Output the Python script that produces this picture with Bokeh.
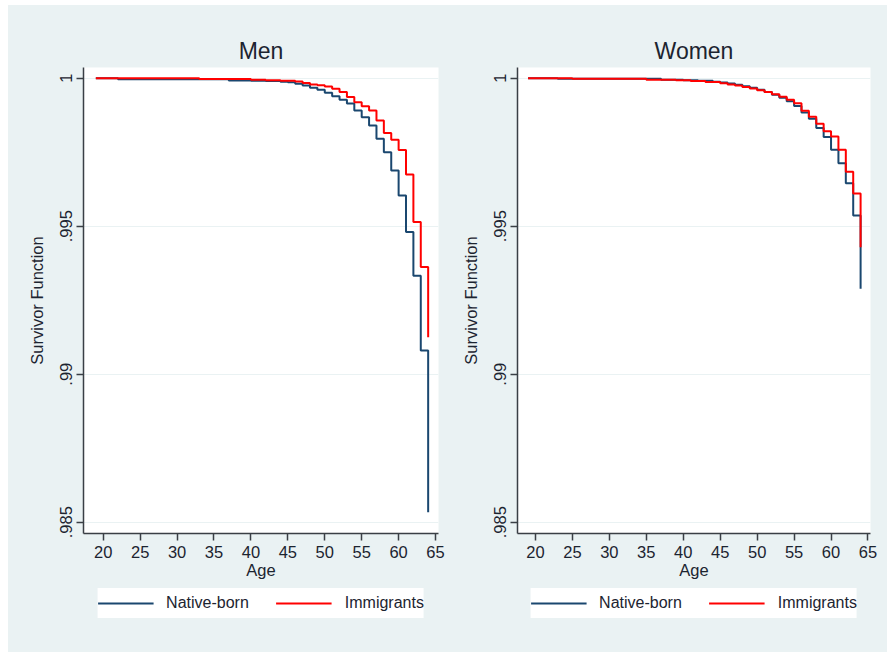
from bokeh.plotting import figure
from bokeh.models import FixedTicker, Legend, LegendItem, Range1d
from bokeh.layouts import row, column
from bokeh.embed import file_html
from bokeh.resources import INLINE

# ---------------- data ----------------
panel_titles = ["Men", "Women"]
series_labels = ["Native-born", "Immigrants"]

men_native_age = [19, 22, 37, 40, 42, 44, 45, 46, 47, 48, 49, 50, 51, 52, 53, 54,
                  55, 56, 57, 58, 59, 60, 61, 62, 63, 64]
men_native_surv = [1.0, 0.99996, 0.99992, 0.99991, 0.99990, 0.99988, 0.99986, 0.99981,
                   0.99975, 0.99968, 0.99961, 0.99951, 0.99939, 0.99927, 0.99914, 0.99891,
                   0.99868, 0.99840, 0.99795, 0.99750, 0.99688, 0.99604, 0.99480, 0.99333,
                   0.99080, 0.98534]

men_imm_age = [19, 33, 40, 42, 44, 46, 47, 48, 49, 50, 51, 52, 53, 54, 55, 56, 57,
               58, 59, 60, 61, 62, 63, 64]
men_imm_surv = [1.0, 0.99997, 0.99995, 0.99993, 0.99991, 0.99989, 0.99984, 0.99979,
                0.99976, 0.99972, 0.99964, 0.99953, 0.99936, 0.99919, 0.99905, 0.99891,
                0.99857, 0.99815, 0.99792, 0.99757, 0.99675, 0.99514, 0.99362, 0.99125]

women_native_age = [19, 23, 37, 40, 42, 44, 45, 46, 47, 48, 49, 50, 51, 52, 53, 54,
                    55, 56, 57, 58, 59, 60, 61, 62, 63, 64]
women_native_surv = [1.0, 0.99998, 0.99995, 0.99993, 0.99991, 0.99988, 0.99985, 0.99982,
                     0.99978, 0.99973, 0.99968, 0.99961, 0.99953, 0.99944, 0.99934, 0.99922,
                     0.99906, 0.99884, 0.99863, 0.99832, 0.99801, 0.99758, 0.99713, 0.99645,
                     0.99536, 0.99289]

women_imm_age = [19, 25, 35, 39, 41, 43, 45, 46, 47, 48, 49, 50, 51, 52, 53, 54,
                 55, 56, 57, 58, 59, 60, 61, 62, 63, 64]
women_imm_surv = [1.0, 0.99998, 0.99995, 0.99993, 0.99990, 0.99987, 0.99983, 0.99979,
                  0.99975, 0.99970, 0.99965, 0.99959, 0.99953, 0.99946, 0.99937, 0.99927,
                  0.99915, 0.99890, 0.99870, 0.99846, 0.99821, 0.99803, 0.99758, 0.99684,
                  0.99610, 0.99429]

x_ticks = [20, 25, 30, 35, 40, 45, 50, 55, 60, 65]
y_ticks = [0.985, 0.99, 0.995, 1.0]
y_tick_labels = [".985", ".99", ".995", "1"]

# ---------------- styling ----------------
BG = "#EAF2F3"
NAVY = "#1A476F"
RED = "#FF0000"
TXT = "#1c2430"
AXC = "#3a3f45"
FONT = "Liberation Sans"
series_colors = [NAVY, RED]
NAN = float("nan")


def make_panel(title, nat_age, nat_surv, imm_age, imm_surv, xr, frame_w, mb_left, mb_right):
    p = figure(frame_width=frame_w, frame_height=466,
               x_range=Range1d(*xr), y_range=Range1d(0.98462, 1.00036),
               output_backend="svg", toolbar_location=None,
               min_border_left=mb_left, min_border_right=mb_right,
               min_border_top=62, min_border_bottom=55,
               background_fill_color="white", border_fill_color=BG,
               outline_line_color=None)

    p.title.text = title
    p.title.align = "center"
    p.title.text_font = FONT
    p.title.text_font_size = "23px"
    p.title.text_font_style = "normal"
    p.title.text_color = TXT
    p.title.standoff = 7

    p.xaxis.ticker = FixedTicker(ticks=x_ticks)
    p.yaxis.ticker = FixedTicker(ticks=y_ticks)
    p.yaxis.major_label_overrides = {t: l for t, l in zip(y_ticks, y_tick_labels)}
    p.yaxis.major_label_orientation = "vertical"
    p.xaxis.axis_label = "Age"
    p.yaxis.axis_label = "Survivor Function"

    for ax in (p.xaxis[0], p.yaxis[0]):
        ax.axis_line_color = AXC
        ax.axis_line_width = 1.5
        ax.major_tick_line_color = AXC
        ax.major_tick_line_width = 1.5
        ax.major_tick_out = 7
        ax.major_tick_in = 0
        ax.minor_tick_out = 0
        ax.minor_tick_in = 0
        ax.major_label_text_font = FONT
        ax.major_label_text_font_size = "16.5px"
        ax.major_label_text_color = TXT
        ax.axis_label_text_font = FONT
        ax.axis_label_text_font_size = "16.5px"
        ax.axis_label_text_font_style = "normal"
        ax.axis_label_text_color = TXT
    p.xaxis.major_label_standoff = 5
    p.xaxis.axis_label_standoff = 0
    p.yaxis.major_label_standoff = 4
    p.yaxis.axis_label_standoff = 12

    p.xgrid.visible = False
    p.ygrid.grid_line_color = BG
    p.ygrid.grid_line_width = 1.2

    p.step(nat_age, nat_surv, mode="after", line_color=series_colors[0], line_width=2)
    p.step(imm_age, imm_surv, mode="after", line_color=series_colors[1], line_width=2)

    # legend lives in a strip below the panel, aligned with the panel's frame
    lf = figure(frame_width=frame_w, frame_height=64,
                min_border_left=mb_left, min_border_right=mb_right,
                min_border_top=0, min_border_bottom=0,
                x_axis_type=None, y_axis_type=None,
                output_backend="svg", toolbar_location=None,
                background_fill_color=BG, border_fill_color=BG,
                outline_line_color=None)
    lf.xgrid.visible = False
    lf.ygrid.visible = False
    items = []
    for lab, col in zip(series_labels, series_colors):
        r = lf.line(x=[NAN], y=[NAN], line_color=col, line_width=2)
        items.append(LegendItem(label=lab, renderers=[r]))
    legend = Legend(items=items, orientation="horizontal", location="top_center",
                    label_text_font=FONT, label_text_font_size="16px",
                    label_text_color=TXT,
                    glyph_width=56, glyph_height=30, label_height=30,
                    label_standoff=13, spacing=27, padding=5, margin=0,
                    background_fill_color="white", background_fill_alpha=1.0,
                    border_line_color=None)
    lf.add_layout(legend)
    return column(p, lf, spacing=0)


left = make_panel(panel_titles[0], men_native_age, men_native_surv,
                  men_imm_age, men_imm_surv, (17.33, 65.40), 355, 75, 17)
right = make_panel(panel_titles[1], women_native_age, women_native_surv,
                   women_imm_age, women_imm_surv, (17.57, 65.34), 353, 62, 17)

layout = row(left, right, spacing=0, margin=(5, 0, 0, 8),
             styles={"background-color": BG})
open("out.html", "w").write(file_html(layout, INLINE))
